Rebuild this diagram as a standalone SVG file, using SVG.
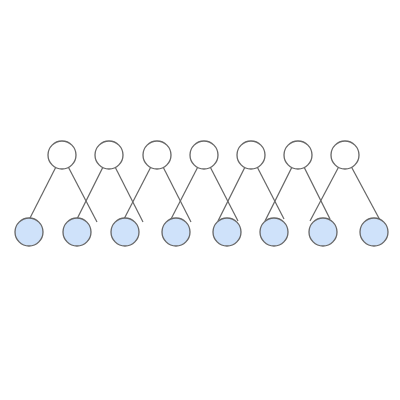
<svg xmlns="http://www.w3.org/2000/svg" width="400" height="400" viewBox="0 0 400 400">
<style>
.edge{stroke:#666;stroke-width:1.2;fill:none}
.top{fill:#fff;stroke:#666;stroke-width:1.3}
.bot{fill:#cfe2fa;stroke:#666;stroke-width:1.3}
</style>
<rect width="400" height="400" fill="#fff"/>
<g id="connectors">
<line class="edge" x1="62" y1="155" x2="29" y2="220"/>
<line class="edge" x1="62" y1="155" x2="97" y2="222"/>
<line class="edge" x1="109" y1="155" x2="76" y2="221"/>
<line class="edge" x1="109" y1="155" x2="143" y2="222"/>
<line class="edge" x1="157" y1="155" x2="123" y2="221"/>
<line class="edge" x1="157" y1="155" x2="191" y2="222"/>
<line class="edge" x1="204" y1="155" x2="170" y2="221"/>
<line class="edge" x1="204" y1="155" x2="238" y2="221"/>
<line class="edge" x1="251" y1="155" x2="218" y2="221"/>
<line class="edge" x1="251" y1="155" x2="284" y2="219"/>
<line class="edge" x1="298" y1="155" x2="265" y2="221"/>
<line class="edge" x1="298" y1="155" x2="330" y2="219"/>
<line class="edge" x1="345" y1="155" x2="310" y2="221"/>
<line class="edge" x1="345" y1="155" x2="381" y2="222"/>
</g>
<g id="t1"><circle class="top" cx="62" cy="155" r="14"/></g>
<g id="t2"><circle class="top" cx="109" cy="155" r="14"/></g>
<g id="t3"><circle class="top" cx="157" cy="155" r="14"/></g>
<g id="t4"><circle class="top" cx="204" cy="155" r="14"/></g>
<g id="t5"><circle class="top" cx="251" cy="155" r="14"/></g>
<g id="t6"><circle class="top" cx="298" cy="155" r="14"/></g>
<g id="t7"><circle class="top" cx="345" cy="155" r="14"/></g>
<g id="b1"><circle class="bot" cx="29" cy="232" r="14"/></g>
<g id="b2"><circle class="bot" cx="77" cy="232" r="14"/></g>
<g id="b3"><circle class="bot" cx="125" cy="232" r="14"/></g>
<g id="b4"><circle class="bot" cx="176" cy="232" r="14"/></g>
<g id="b5"><circle class="bot" cx="227" cy="232" r="14"/></g>
<g id="b6"><circle class="bot" cx="274" cy="232" r="14"/></g>
<g id="b7"><circle class="bot" cx="323" cy="232" r="14"/></g>
<g id="b8"><circle class="bot" cx="374" cy="232" r="14"/></g>
</svg>
